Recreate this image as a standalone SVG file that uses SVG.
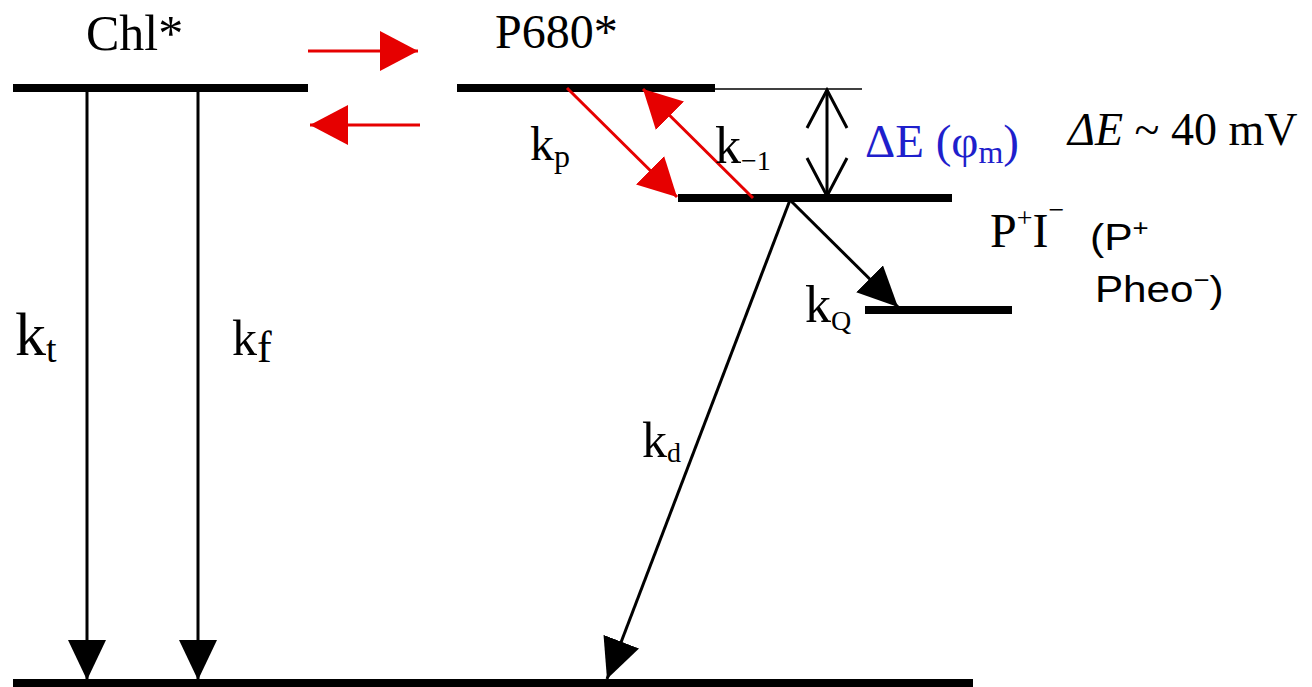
<svg xmlns="http://www.w3.org/2000/svg" width="1312" height="687" viewBox="0 0 1312 687">
<style>
.lvl{stroke:#000;stroke-width:8;fill:none}
.ln{stroke:#000;stroke-width:3;fill:none}
.red{stroke:#e60000;stroke-width:3;fill:none}
.serif{font-family:"Liberation Serif","Times New Roman",serif;fill:#000}
.sans{font-family:"Liberation Sans",Arial,sans-serif;fill:#000}
.blue{fill:#1f1fcc}
</style>
<defs>
<marker id="hb" markerUnits="userSpaceOnUse" markerWidth="40" markerHeight="38" refX="40" refY="19" orient="auto">
<path d="M0,0 L40,19 L0,38 z" fill="#000"/>
</marker>
<marker id="hr" markerUnits="userSpaceOnUse" markerWidth="38" markerHeight="40" refX="38" refY="20" orient="auto">
<path d="M0,0 L38,20 L0,40 z" fill="#e60000"/>
</marker>
</defs>
<rect width="1312" height="687" fill="#fff"/>

<g id="chl">
<line class="lvl" x1="13" y1="88" x2="308" y2="88"/>
<text class="serif" x="86" y="50" font-size="50">Chl*</text>
</g>
<g id="p680">
<line class="lvl" x1="457" y1="88" x2="715" y2="88"/>
<line x1="715" y1="89" x2="862" y2="89" stroke="#000" stroke-width="1.5"/>
<text class="serif" x="495" y="48" font-size="48">P680*</text>
</g>
<g id="pi">
<line class="lvl" x1="678" y1="198" x2="952" y2="198"/>
<text class="serif" x="990" y="247" font-size="48">P<tspan font-size="28" dy="-20">+</tspan><tspan dy="20">I</tspan><tspan font-size="28" dy="-28">−</tspan></text>
<text class="sans" transform="translate(1090,250) scale(1.15,1)" font-size="37">(P<tspan font-size="24" dy="-14">+</tspan></text>
<text class="sans" transform="translate(1095,302) scale(1.14,1)" font-size="37">Pheo<tspan font-size="24" dy="-14">−</tspan><tspan dy="14">)</tspan></text>
</g>
<g id="q">
<line class="lvl" x1="865" y1="310" x2="1012" y2="310"/>
</g>
<g id="ground">
<line class="lvl" x1="13" y1="683" x2="973" y2="683"/>
</g>
<g id="de">
<text class="serif blue" x="865" y="157" font-size="47">ΔE (φ<tspan font-size="32" dy="6">m</tspan><tspan dy="-6">)</tspan></text>
<text class="serif" x="1068" y="145" font-size="46"><tspan font-style="italic">ΔE</tspan> ~ 40 mV</text>
</g>

<g id="connectors">
<line class="red" x1="308" y1="51" x2="418" y2="51" marker-end="url(#hr)"/>
<line class="red" x1="420" y1="125" x2="310" y2="125" marker-end="url(#hr)"/>
<line class="red" x1="567" y1="88" x2="677" y2="197" marker-end="url(#hr)"/>
<line class="red" x1="753" y1="198" x2="643" y2="89" marker-end="url(#hr)"/>
<line class="ln" x1="87" y1="92" x2="87" y2="680" marker-end="url(#hb)"/>
<line class="ln" x1="198" y1="92" x2="198" y2="680" marker-end="url(#hb)"/>
<line class="ln" x1="790" y1="200" x2="607" y2="679" marker-end="url(#hb)"/>
<line class="ln" x1="790" y1="200" x2="898" y2="307" marker-end="url(#hb)"/>
<line class="ln" x1="827" y1="90" x2="827" y2="196"/>
<polyline class="ln" points="807,128 827,90 847,128"/>
<polyline class="ln" points="807,158 827,196 847,158"/>
</g>

<g id="labels">
<text class="serif" x="15" y="355" font-size="62">k<tspan font-size="38" dy="7">t</tspan></text>
<text class="serif" x="232" y="355" font-size="50">k<tspan font-size="44" dy="7">f</tspan></text>
<text class="serif" x="530" y="160" font-size="48">k<tspan font-size="32" dy="7">p</tspan></text>
<text class="serif" x="715" y="163" font-size="52">k<tspan font-size="28" dy="7">−1</tspan></text>
<text class="serif" x="805" y="322" font-size="52">k<tspan font-size="28" dy="8">Q</tspan></text>
<text class="serif" x="642" y="457" font-size="50">k<tspan font-size="28" dy="5">d</tspan></text>
</g>
</svg>
